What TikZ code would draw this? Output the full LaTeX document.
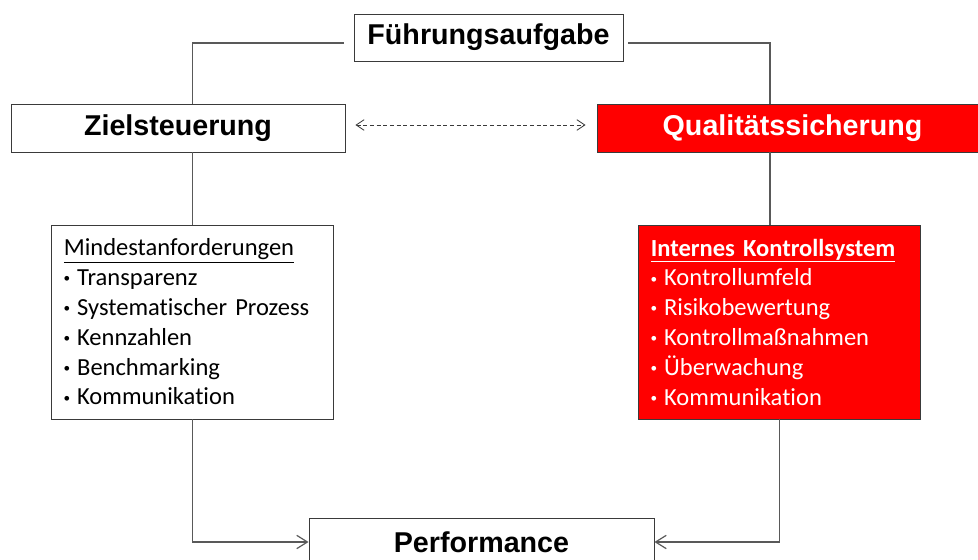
\documentclass[tikz,border=0pt]{standalone}
\usepackage{fontspec}
\setmainfont{Carlito}[Ligatures={NoCommon}]
\newfontfamily\headfont{Liberation Sans}
\usetikzlibrary{arrows.meta}
\definecolor{qsred}{HTML}{FF0000}
\definecolor{linegray}{HTML}{595959}
\definecolor{framegray}{HTML}{3A3A3A}
\newcommand{\punkt}{\makebox[10pt][l]{\raisebox{0.6pt}{\headfont\fontsize{13}{13}\selectfont\textbullet}}}

\begin{document}
\begin{tikzpicture}[x=0.75pt, y=-0.75pt,
    head/.style={draw=framegray, line width=0.7pt, minimum height=36pt, inner sep=0pt, font=\headfont\bfseries\fontsize{21.5}{26}\selectfont},
    list/.style={draw=framegray, line width=0.7pt, minimum height=145.5pt, text width=193pt, inner xsep=9.5pt, inner ysep=0pt, align=left, font=\fontsize{18.4}{22.35}\selectfont},
    conn/.style={draw=linegray, line width=0.9pt},
    arrow/.style={conn, -{Straight Barb[length=8pt, width=10pt]}},
]
\useasboundingbox (0,0) rectangle (978,560);

\node[head, minimum width=201.75pt, minimum height=35.25pt] (fuehrung) at (488.5,37.5) {Führungsaufgabe};
\node[head, minimum width=250.5pt] (ziel) at (178,128) {Zielsteuerung};
\node[head, minimum width=293.25pt, fill=qsred, text=white] (qs) at (792.5,128) {Qualitätssicherung};

\node[list] (mindest) at (192.5,322) {\underline{Mindestanforderungen}\\
  \punkt Transparenz\\ \punkt Systematischer Prozess\\ \punkt Kennzahlen\\
  \punkt Benchmarking\\ \punkt Kommunikation};
\node[list, fill=qsred, text=white] (iks) at (779.5,322) {\textbf{\underline{Internes Kontrollsystem}}\\
  \punkt Kontrollumfeld\\ \punkt Risikobewertung\\ \punkt Kontrollmaßnahmen\\
  \punkt Überwachung\\ \punkt Kommunikation};

\node[head, minimum width=258.75pt] (perf) at (481.5,542) {Performance};

\draw[conn] ([shift={(-10,5.5)}]fuehrung.west) -| (mindest.north |- ziel.north);
\draw[conn] ([shift={(5,5.5)}]fuehrung.east) -| ([shift={(-22.5,0)}]qs.north);
\draw[conn] (mindest.north |- ziel.south) -- (mindest.north);
\draw[conn] ([shift={(-22.5,0)}]qs.south) -- ([shift={(-9.5,0)}]iks.north);
\draw[conn, framegray, line width=0.6pt, dash pattern=on 3pt off 2pt, {Straight Barb[length=6pt, width=8pt]}-{Straight Barb[length=6pt, width=8pt]}]
  ([shift={(10,-3)}]ziel.east) -- ([shift={(-11,-3)}]qs.west);
\draw[arrow] (mindest.south) |- (perf.west);
\draw[arrow] (iks.south) |- (perf.east);
\end{tikzpicture}
\end{document}
